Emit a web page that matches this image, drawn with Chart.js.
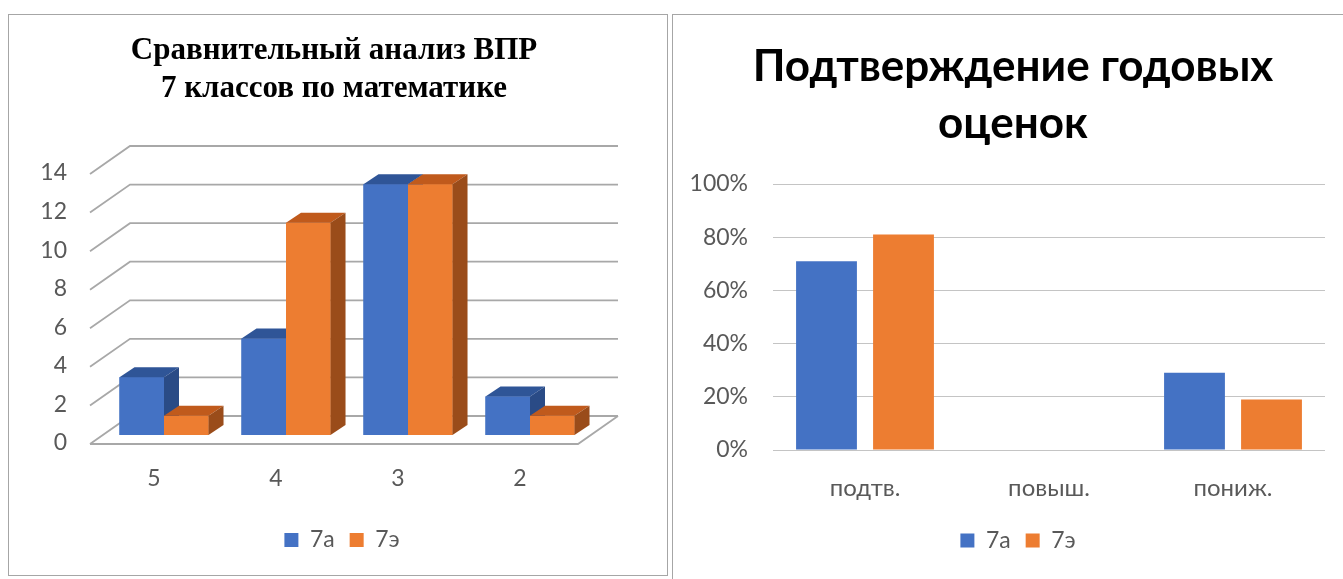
<!DOCTYPE html>
<html lang="ru">
<head>
<meta charset="utf-8">
<title>ВПР 7 классов</title>
<script src="https://cdn.jsdelivr.net/npm/chart.js@4.4.1/dist/chart.umd.min.js"></script>
<style>
  html, body { margin: 0; padding: 0; background: #fff; }
  body { width: 1343px; height: 579px; position: relative; overflow: hidden; }
  .box { position: absolute; border: 1px solid #A6A6A6; background: #fff; }
  #box-left { left: 8px; top: 14px; width: 658px; height: 560px; }
  #box-right { left: 672px; top: 14px; width: 675px; height: 580px; }
  canvas { display: block; }
</style>
</head>
<body>
<div class="box" id="box-left"><canvas id="chart-vpr" width="658" height="560"></canvas></div>
<div class="box" id="box-right"><canvas id="chart-god" width="675" height="564"></canvas></div>
<script>
// данные
const seriesNames = ['7а', '7э'];

const vprTitle = ['Сравнительный анализ ВПР', '7 классов по математике'];
const vprCategories = ['5', '4', '3', '2'];
const vpr7a = [3, 5, 13, 2];
const vpr7e = [1, 11, 13, 1];

const godTitle = ['Подтверждение годовых', 'оценок'];
const godCategories = ['подтв.', 'повыш.', 'пониж.'];
const god7a = [71, 0, 29];
const god7e = [81, 0, 19];

document.addEventListener('DOMContentLoaded', function() {
    const SANS = 'Lato, "Liberation Sans", sans-serif';
    const SERIF = '"Liberation Serif", "DejaVu Serif", serif';
    const TEXT = '#595959';
    const BLUE = '#4472C4';
    const ORANGE = '#ED7D31';

    // оттенки граней для объёмных столбцов
    const shades = [
        { front: BLUE, top: '#2F5597', side: '#2A4B86' },
        { front: ORANGE, top: '#C05A1C', side: '#9A4C1A' }
    ];
    const BAR_DEPTH = { dx: 15, dy: -10 };
    const WALL_FRONT = { dx: -13, dy: 9 };
    const WALL_BACK = { dx: 27, dy: -19 };

    // сдвиг заголовка и легенды по горизонтали
    const centerShift = {
        id: 'centerShift',
        afterLayout(chart, args, opts) {
            [[chart.titleBlock, opts.title], [chart.legend, opts.legend]].forEach(([box, dx]) => {
                if (box && dx) {
                    box.left += dx;
                    box.right += dx;
                }
            });
        }
    };

    // псевдо-3D: стенка, пол и грани столбцов
    const pseudo3d = {
        id: 'pseudo3d',
        beforeDatasetsDraw(chart) {
            const { ctx, chartArea: area, scales: { y } } = chart;
            ctx.save();
            ctx.strokeStyle = '#A8A8A8';
            ctx.lineWidth = 1.8;
            y.ticks.forEach(t => {
                const py = y.getPixelForValue(t.value);
                ctx.beginPath();
                ctx.moveTo(area.left + WALL_FRONT.dx, py + WALL_FRONT.dy);
                ctx.lineTo(area.left + WALL_BACK.dx, py + WALL_BACK.dy);
                ctx.lineTo(area.right + WALL_BACK.dx, py + WALL_BACK.dy);
                ctx.stroke();
            });
            const p0 = y.getPixelForValue(0);
            ctx.beginPath();
            ctx.moveTo(area.left + WALL_FRONT.dx, p0 + WALL_FRONT.dy);
            ctx.lineTo(area.right + WALL_FRONT.dx, p0 + WALL_FRONT.dy);
            ctx.lineTo(area.right + WALL_BACK.dx, p0 + WALL_BACK.dy);
            ctx.stroke();
            ctx.restore();
        },
        afterDatasetsDraw(chart) {
            const ctx = chart.ctx;
            const metas = chart.data.datasets.map((ds, i) => chart.getDatasetMeta(i));
            ctx.save();
            chart.data.labels.forEach((lbl, j) => {
                metas.forEach((meta, i) => {
                    const bar = meta.data[j];
                    const { x, y, base, width } = bar.getProps(['x', 'y', 'base', 'width'], true);
                    const x1 = x - width / 2, x2 = x + width / 2;
                    const dx = BAR_DEPTH.dx, dy = BAR_DEPTH.dy;
                    ctx.fillStyle = shades[i].front;
                    ctx.fillRect(x1, y, width, base - y);
                    ctx.fillStyle = shades[i].top;
                    ctx.beginPath();
                    ctx.moveTo(x1, y); ctx.lineTo(x2, y);
                    ctx.lineTo(x2 + dx, y + dy); ctx.lineTo(x1 + dx, y + dy);
                    ctx.closePath(); ctx.fill();
                    ctx.fillStyle = shades[i].side;
                    ctx.beginPath();
                    ctx.moveTo(x2, y); ctx.lineTo(x2 + dx, y + dy);
                    ctx.lineTo(x2 + dx, base + dy); ctx.lineTo(x2, base);
                    ctx.closePath(); ctx.fill();
                });
            });
            ctx.restore();
        }
    };

    const legendLabels = { color: TEXT, font: { family: SANS, size: 23 }, boxWidth: 14, boxHeight: 14, padding: 15 };

    // левая диаграмма
    new Chart(document.getElementById('chart-vpr'), {
        type: 'bar',
        data: {
            labels: vprCategories,
            datasets: [
                { label: seriesNames[0], data: vpr7a, backgroundColor: BLUE },
                { label: seriesNames[1], data: vpr7e, backgroundColor: ORANGE }
            ]
        },
        options: {
            responsive: false,
            animation: false,
            layout: { padding: { left: 20, right: 76, top: 0, bottom: 13.5 } },
            datasets: { bar: { categoryPercentage: 0.73, barPercentage: 1 } },
            scales: {
                x: {
                    grid: { display: false, drawTicks: false },
                    border: { display: false },
                    ticks: { color: TEXT, font: { family: SANS, size: 23 }, padding: 29.7, labelOffset: -10 },
                    afterFit(s) { s.height -= 8.5; }
                },
                y: {
                    min: 0, max: 14,
                    grid: { display: false, drawTicks: false },
                    border: { display: false },
                    ticks: { stepSize: 2, color: TEXT, font: { family: SANS, size: 23 }, padding: 36, labelOffset: 8 },
                    afterFit(s) { s.width = 74; }
                }
            },
            plugins: {
                title: {
                    display: true, text: vprTitle, color: '#000',
                    font: { family: SERIF, size: 31, weight: 'bold', lineHeight: 1.226 },
                    padding: { top: 17, bottom: 57 }
                },
                legend: { position: 'bottom', labels: legendLabels },
                tooltip: { enabled: false },
                centerShift: { title: 24, legend: 32 }
            }
        },
        plugins: [pseudo3d, centerShift]
    });

    // правая диаграмма
    new Chart(document.getElementById('chart-god'), {
        type: 'bar',
        data: {
            labels: godCategories,
            datasets: [
                { label: seriesNames[0], data: god7a, backgroundColor: BLUE },
                { label: seriesNames[1], data: god7e, backgroundColor: ORANGE }
            ]
        },
        options: {
            responsive: false,
            animation: false,
            layout: { padding: { left: 15, right: 23, top: 0, bottom: 17 } },
            datasets: { bar: { categoryPercentage: 0.837, barPercentage: 0.79 } },
            scales: {
                x: {
                    grid: { display: false, drawTicks: false },
                    border: { display: false },
                    ticks: { color: TEXT, font: { family: SANS, size: 24 }, padding: 24 },
                    afterFit(s) { s.height -= 12.8; }
                },
                y: {
                    min: 0, max: 100,
                    grid: { color: '#C4C4C4', lineWidth: 1, drawTicks: false },
                    border: { display: false },
                    ticks: { stepSize: 20, color: TEXT, font: { family: SANS, size: 23 }, padding: 25,
                        callback: v => v + '%' },
                    afterFit(s) { s.width = 85; }
                }
            },
            plugins: {
                title: {
                    display: true, text: godTitle, color: '#000',
                    font: { family: SANS, size: 44, weight: 'bold', lineHeight: 1.3 },
                    padding: { top: 23.4, bottom: 31.2 }
                },
                legend: { position: 'bottom', labels: legendLabels },
                tooltip: { enabled: false },
                centerShift: { title: 6.5, legend: 11.5 }
            }
        },
        plugins: [centerShift]
    });
});
</script>
</body>
</html>
